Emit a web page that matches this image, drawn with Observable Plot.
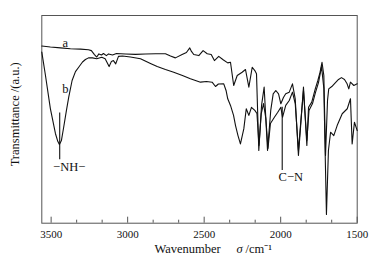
<!DOCTYPE html>
<html><head><meta charset="utf-8">
<script src="https://cdn.jsdelivr.net/npm/d3@7"></script>
<script src="https://cdn.jsdelivr.net/npm/@observablehq/plot@0.6"></script>
<style>body{margin:0;background:#fff}</style>
</head><body><div id="chart"></div>
<script>
const waveA = [3561,3505,3439,3374,3308,3256,3237,3217,3202,3188,3171,3158,3139,3125,3099,3073,3014,2949,2884,2818,2753,2720,2688,2644,2616,2594,2583,2568,2535,2507,2480,2454,2433,2405,2376,2346,2328,2307,2284,2252,2230,2208,2186,2169,2158,2143,2125,2108,2086,2065,2049,2032,2014,1999,1982,1967,1944,1923,1905,1884,1867,1851,1829,1818,1797,1774,1757,1743,1730,1718,1707,1694,1686,1666,1642,1622,1603,1583,1567,1555,1544,1522,1500];
const transA = [85.3,84.8,84.4,84.0,83.8,83.5,83.1,81.2,80.0,81.5,81.0,81.7,80.7,81.5,81.0,81.7,81.5,81.3,81.5,81.6,81.6,80.5,79.6,81.2,82.2,84.4,82.7,81.2,80.7,83.1,81.6,81.2,78.3,80.3,78.7,77.2,77.5,66.3,71.1,72.7,74.0,65.5,75.1,73.5,71.9,35.0,56.7,65.5,35.0,54.3,62.3,63.9,62.3,57.5,60.5,62.3,63.1,67.1,59.9,32.6,49.4,65.5,37.4,55.8,58.3,64.7,68.7,72.6,77.5,71.1,32.6,59.1,64.7,65.8,67.7,69.2,70.1,69.2,67.3,64.7,67.9,66.3,67.1];
const waveB = [3561,3537,3505,3472,3456,3446,3433,3418,3400,3385,3363,3341,3320,3295,3276,3256,3230,3202,3169,3147,3121,3106,3093,3078,3060,3034,2982,2916,2851,2807,2753,2699,2642,2590,2524,2485,2448,2426,2407,2372,2357,2346,2328,2308,2295,2279,2263,2241,2225,2208,2191,2169,2155,2142,2127,2112,2097,2083,2067,2041,2019,1999,1988,1967,1944,1923,1905,1884,1867,1851,1829,1815,1792,1773,1753,1733,1718,1701,1688,1674,1653,1631,1598,1565,1544,1533,1518,1500];
const transB = [82.4,71.1,55.2,43.2,39.3,37.9,39.8,46.2,54.3,60.7,68.7,73.0,75.1,77.6,78.8,79.6,79.6,79.2,79.9,79.2,75.4,77.9,78.3,76.7,80.3,80.5,80.0,79.2,76.9,75.4,74.0,72.7,71.1,69.5,67.9,68.2,67.9,65.8,67.0,67.1,63.9,59.9,56.7,51.9,47.0,42.2,38.2,45.4,55.1,51.9,55.8,54.3,52.8,37.4,52.8,57.6,50.4,36.0,48.0,51.0,53.4,55.8,51.0,56.7,59.1,63.1,57.6,35.0,50.4,63.9,39.8,54.3,57.6,62.9,67.7,75.4,64.9,4.2,35.0,43.8,42.2,47.0,52.7,55.1,59.9,38.2,48.6,44.6];

const majorTicks = [3500, 3000, 2500, 2000, 1500];
const minorTicks = [3333.3, 3166.7, 2833.3, 2666.7, 2333.3, 2166.7, 1833.3, 1666.7];

const curveLabels = ["a", "b"];
const curveLabelWave = [3407, 3407];
const curveLabelT = [86.7, 64.4];

const markerLabels = ["\u2212NH\u2212", "C\u2212N"];
const markerLabelWave = [3487, 2014];
const markerLabelT = [27.0, 22.1];
const markerWave = [3444, 1990];
const markerTop = [53.0, 55.8];
const markerBottom = [30.5, 25.4];

const seriesA = waveA.map((w, i) => ({w, t: transA[i]}));
const seriesB = waveB.map((w, i) => ({w, t: transB[i]}));
const curveLab = curveLabels.map((s, i) => ({s, w: curveLabelWave[i], t: curveLabelT[i]}));
const markLab = markerLabels.map((s, i) => ({s, w: markerLabelWave[i], t: markerLabelT[i]}));
const markLines = markerWave.map((w, i) => ({w, t1: markerTop[i], t2: markerBottom[i]}));

const font = "'Liberation Serif', 'Times New Roman', serif";
const frameH = 264 - 15 - 41.3;

const chart = Plot.plot({
  width: 386, height: 264,
  marginLeft: 41.3, marginRight: 29.3, marginTop: 15, marginBottom: 41.3,
  x: {domain: [3561, 1500], axis: null},
  y: {domain: [0, 100], axis: null},
  style: {fontFamily: font, fontSize: "11px", color: "#111", background: "#fff"},
  marks: [
    Plot.frame({stroke: "#555", strokeWidth: 1}),
    Plot.ruleX(majorTicks, {x: d => d, insetTop: frameH - 6, stroke: "#555"}),
    Plot.ruleX(minorTicks, {x: d => d, insetTop: frameH - 3, stroke: "#555"}),
    Plot.axisX(majorTicks, {tickSize: 0, tickPadding: 7, tickFormat: d => String(d), fontSize: 11, label: null}),
    Plot.line(seriesA, {x: "w", y: "t", stroke: "#111", strokeWidth: 1.1}),
    Plot.line(seriesB, {x: "w", y: "t", stroke: "#111", strokeWidth: 1.1}),
    Plot.ruleX(markLines, {x: "w", y1: "t1", y2: "t2", stroke: "#111", strokeWidth: 1.1}),
    Plot.text(curveLab, {x: "w", y: "t", text: "s", fontSize: 12.5, fill: "#111"}),
    Plot.text(markLab, {x: "w", y: "t", text: "s", fontSize: 12.5, fill: "#111", textAnchor: "start"}),
    Plot.text(["Wavenumber"], {x: [2825], text: d => d, frameAnchor: "bottom", dy: 29.5, textAnchor: "start", fontSize: 12.5, fill: "#111"}),
    Plot.text(["\u03C3"], {x: [2289], text: d => d, frameAnchor: "bottom", dy: 29.5, textAnchor: "start", fontSize: 12.5, fontStyle: "italic", fill: "#111"}),
    Plot.text(["/cm\u207B\u00B9"], {x: [2230], text: d => d, frameAnchor: "bottom", dy: 29.5, textAnchor: "start", fontSize: 12.5, fill: "#111"}),
    Plot.text(["Transmittance /(a.u.)"], {text: d => d, frameAnchor: "left", textAnchor: "middle", rotate: -90, dx: -27, dy: -5, fontSize: 12.5, fill: "#111"})
  ]
});
document.getElementById("chart").appendChild(chart);
</script>
</body></html>
